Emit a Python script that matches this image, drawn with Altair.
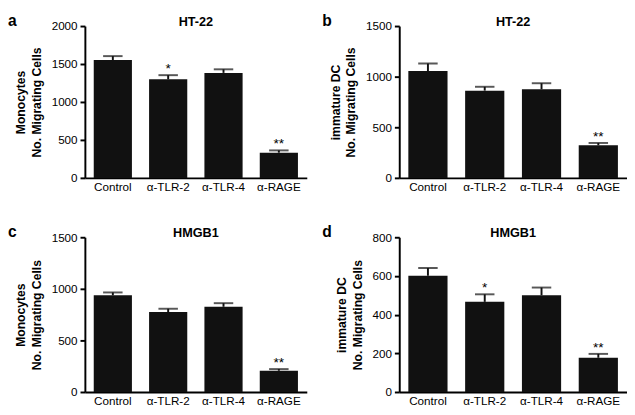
import altair as alt
import pandas as pd

categories = ["Control", "α-TLR-2", "α-TLR-4", "α-RAGE"]

# panel a: HT-22, Monocytes
a_vals = [1553, 1298, 1383, 332]
a_errs = [1604, 1353, 1430, 362]
a_stars = ["", "*", "", "**"]
# panel b: HT-22, immature DC
b_vals = [1056, 862, 875, 322]
b_errs = [1130, 900, 935, 345]
b_stars = ["", "", "", "**"]
# panel c: HMGB1, Monocytes
c_vals = [937, 775, 826, 206]
c_errs = [965, 807, 861, 222]
c_stars = ["", "", "", "**"]
# panel d: HMGB1, immature DC
d_vals = [601, 466, 500, 177]
d_errs = [641, 505, 540, 197]
d_stars = ["", "*", "", "**"]

FONT = "Liberation Sans"


def panel(letter, title, ytitle, vals, errs, stars, ymax, ystep, W, H):
    df = pd.DataFrame({"cat": categories, "val": vals, "err": errs, "star": stars})
    xscale = alt.Scale(paddingInner=0.31, paddingOuter=0.16)
    xaxis = alt.Axis(title=None, labelAngle=0, ticks=False, domainWidth=2,
                     domainColor="black", labelColor="black", labelFont=FONT,
                     labelFontSize=12, labelPadding=4)
    yscale = alt.Scale(domain=[0, ymax], nice=False)
    yaxis = alt.Axis(title=[ytitle, "No. Migrating Cells"],
                     values=list(range(0, ymax + 1, ystep)), format="d",
                     labelOverlap=False, grid=False, domainWidth=2,
                     domainColor="black", tickWidth=2, tickColor="black",
                     tickSize=5, labelColor="black", labelFont=FONT,
                     labelFontSize=12, labelPadding=3, titleFont=FONT,
                     titleFontSize=12.5, titleFontWeight="bold",
                     titleColor="black", titlePadding=8, titleLineHeight=16)
    x = alt.X("cat:N", sort=categories, scale=xscale, axis=xaxis)
    base = alt.Chart(df)
    bars = base.mark_bar(color="#111111").encode(
        x=x, y=alt.Y("val:Q", scale=yscale, axis=yaxis))
    rule = base.mark_rule(color="#111111", strokeWidth=2).encode(
        x=x, y=alt.Y("val:Q", scale=yscale, axis=yaxis), y2="err:Q")
    cap = base.mark_tick(color="#111111", thickness=2, size=20).encode(
        x=x, y=alt.Y("err:Q", scale=yscale, axis=yaxis))
    star = base.mark_text(color="black", font=FONT, fontSize=14, dy=-6).encode(
        x=x, y=alt.Y("err:Q", scale=yscale, axis=yaxis), text="star:N")
    ttl = alt.Chart(pd.DataFrame({"t": [title]})).mark_text(
        font=FONT, fontSize=13, fontWeight="bold", color="black", baseline="middle").encode(
        x=alt.value(W / 2), y=alt.value(-4), text="t:N")
    lab = alt.Chart(pd.DataFrame({"t": [letter]})).mark_text(
        font=FONT, fontSize=16, fontWeight="bold", color="black", baseline="middle",
        align="left").encode(x=alt.value(-79), y=alt.value(-5), text="t:N")
    return alt.layer(bars, rule, cap, star, ttl, lab).properties(width=W, height=H)


pa = panel("a", "HT-22", "Monocytes", a_vals, a_errs, a_stars, 2000, 500, 228, 156)
pb = panel("b", "HT-22", "immature DC", b_vals, b_errs, b_stars, 1500, 500, 234, 156)
pc = panel("c", "HMGB1", "Monocytes", c_vals, c_errs, c_stars, 1500, 500, 228, 159)
pd_ = panel("d", "HMGB1", "immature DC", d_vals, d_errs, d_stars, 800, 200, 234, 159)

chart = alt.vconcat(
    alt.hconcat(pa, pb, spacing=16),
    alt.hconcat(pc, pd_, spacing=16),
    spacing=33,
).properties(padding={"left": 0, "top": 0, "right": 0, "bottom": 0}).configure_view(stroke=None)

chart.save("out.html", embed_options={"renderer": "svg", "actions": False})
